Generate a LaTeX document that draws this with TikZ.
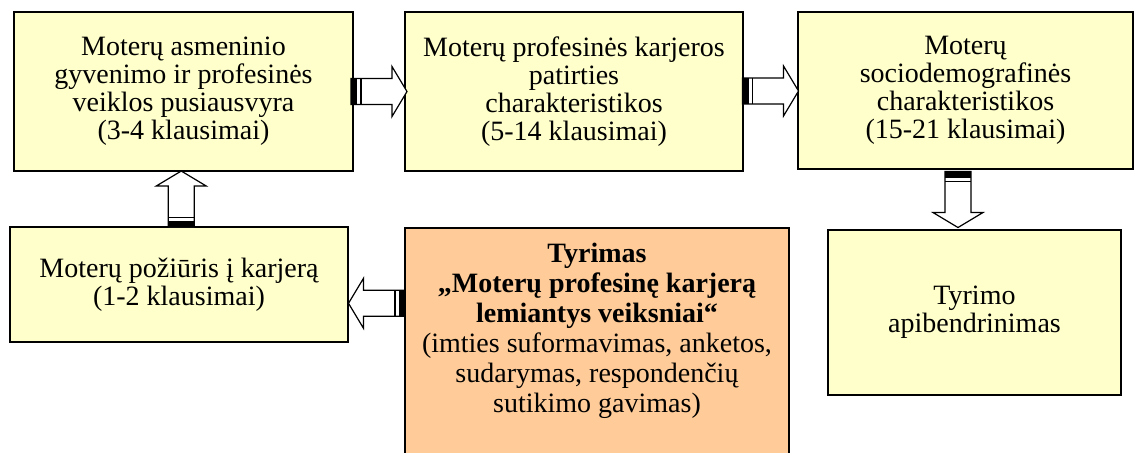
\documentclass[tikz,border=0pt]{standalone}
\usepackage{fontspec}
\setmainfont{Liberation Serif}
\usetikzlibrary{calc}
\definecolor{yellowbox}{HTML}{FFFFCC}
\definecolor{orangebox}{HTML}{FFCC99}

\begin{document}
\begin{tikzpicture}
        [
        x=0.5pt, y=-0.5pt,
        box/.style={draw,line width=0.9pt,fill=yellowbox,align=center,inner sep=0pt,
            font=\fontsize{14}{14}\selectfont},
        tyrbox/.style={box,fill=orangebox},
        striparrow/.pic={
            \draw[line width=0.6pt,fill=white] (-28,-13) -- (13,-13) -- (13,-25) -- (28,0)
                -- (13,25) -- (13,13) -- (-28,13) -- cycle;
            \fill (-28,-13) rectangle (-22,13);
            \fill (-19,-13) rectangle (-17.5,13);
        }
        ]
    \useasboundingbox (0,0) rectangle (1135,452);
    \node[box,minimum width=169.5pt,minimum height=79.5pt] (asmen) at (183.5,91.5)
        {Moterų asmeninio\\gyvenimo ir profesinės\\veiklos pusiausvyra\\(3-4 klausimai)};
    \node[box,minimum width=169pt,minimum height=79.5pt] (patirtis) at (574,91.5)
        {Moterų profesinės karjeros\\patirties\\charakteristikos\\(5-14 klausimai)};
    \node[box,minimum width=167.5pt,minimum height=78.5pt] (socdem) at (965.5,90.5)
        {Moterų\\sociodemografinės\\charakteristikos\\(15-21 klausimai)};
    \node[box,minimum width=169pt,minimum height=57.5pt] (poziuris) at (179,284.5)
        {Moterų požiūris į karjerą\\(1-2 klausimai)};
    \node[tyrbox,minimum width=192pt,minimum height=116pt] (tyrimas) at (597,344) {};
    \node[align=center,font=\fontsize{14}{15}\selectfont] (tyrimastxt) at ($(tyrimas.center)+(0,-13)$)
        {\textbf{Tyrimas}\\\textbf{„Moterų profesinę karjerą}\\\textbf{lemiantys veiksniai“}\\
         (imties suformavimas, anketos,\\sudarymas, respondenčių\\sutikimo gavimas)};
    \node[box,minimum width=146.5pt,minimum height=82.5pt] (apibendr) at (974.5,312.5)
        {Tyrimo\\apibendrinimas};
    % block arrows
    \pic at ($(asmen.east)!0.5!(patirtis.west)$) {striparrow};
    \pic at ($(patirtis.east)!0.5!(socdem.west)$) {striparrow};
    \pic[rotate=90] at ($(poziuris.north)!0.5!(asmen.south)$) {striparrow};
    \pic[rotate=-90] at ($(socdem.south)!0.5!(apibendr.north)+(-12,0)$) {striparrow};
    \pic[rotate=180] at ($(tyrimas.west)!0.5!(poziuris.east)+(0,-11)$) {striparrow};
\end{tikzpicture}
\end{document}
